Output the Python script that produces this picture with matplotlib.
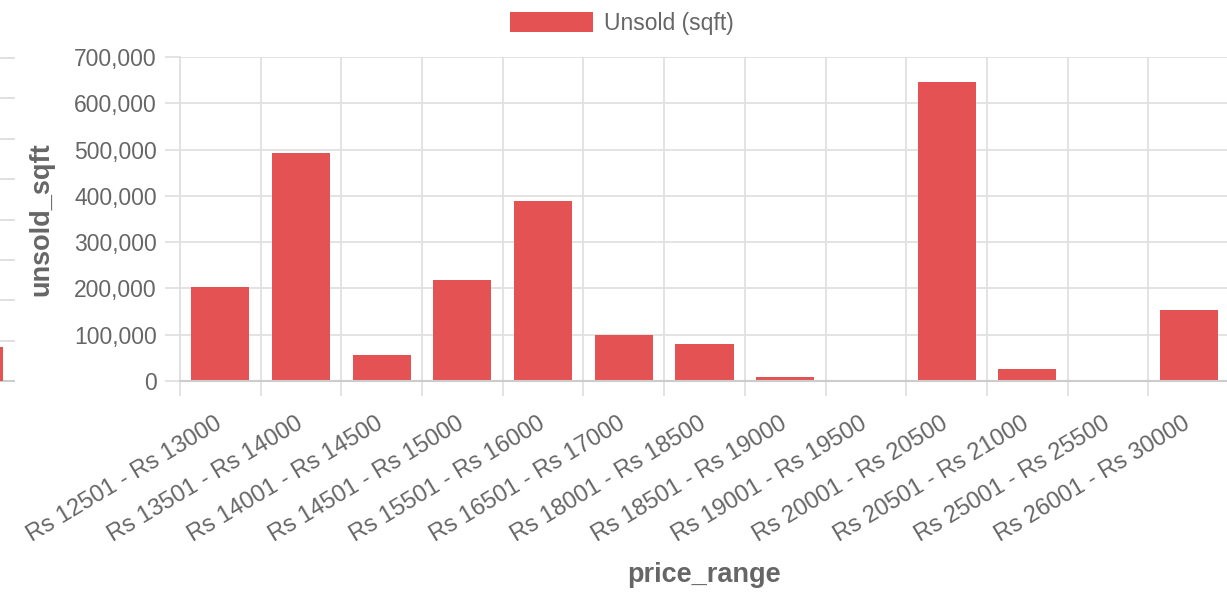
import matplotlib.pyplot as plt
import matplotlib.transforms as mtransforms
import numpy as np
from matplotlib.ticker import FuncFormatter

plt.rcParams["font.family"] = ["Liberation Sans", "DejaVu Sans"]

price_ranges = [
    "Rs 12501 - Rs 13000",
    "Rs 13501 - Rs 14000",
    "Rs 14001 - Rs 14500",
    "Rs 14501 - Rs 15000",
    "Rs 15501 - Rs 16000",
    "Rs 16501 - Rs 17000",
    "Rs 18001 - Rs 18500",
    "Rs 18501 - Rs 19000",
    "Rs 19001 - Rs 19500",
    "Rs 20001 - Rs 20500",
    "Rs 20501 - Rs 21000",
    "Rs 25001 - Rs 25500",
    "Rs 26001 - Rs 30000",
]
unsold_sqft = [204000, 493000, 57000, 218000, 388000, 100000, 79500,
               9000, 0, 645000, 27000, 0, 153000]

# edge of the neighbouring panel that is cut off on the left
side_grid_levels = np.arange(0, 9)
side_value = [0.84]

bar_color = "#E45253"
grid_color = "#e0e0e0"
zero_color = "#cccccc"
text_color = "#666666"

W, H = 1227, 599
fig = plt.figure(figsize=(W / 100, H / 100), dpi=100)

# neighbouring panel stub
ax0 = fig.add_axes([0, 1 - 381 / H, 14 / W, (381 - 58) / H])
ax0.bar([-20], side_value, width=23, align="edge", color=bar_color, zorder=2)
ax0.set_xlim(0, 14)
ax0.set_ylim(0, 8)
for lvl in side_grid_levels:
    ax0.axhline(lvl, color=zero_color if lvl == 0 else grid_color, lw=1.4,
                zorder=1, clip_on=False)
ax0.axis("off")

# main chart
ax = fig.add_axes([180 / W, 1 - 381 / H, 1049 / W, 324 / H])
x = np.arange(len(price_ranges))
ax.bar(x, unsold_sqft, width=0.72, color=bar_color, zorder=2,
       label="Unsold (sqft)")
ax.set_xlim(-0.5, len(price_ranges) - 0.5)
ax.set_ylim(0, 700000)
ax.set_axisbelow(True)

# category boundaries carry the grid, centres carry the labels
ax.set_xticks(np.arange(-0.5, len(price_ranges) + 0.5, 1.0))
ax.set_xticklabels([])
ax.set_xticks(x, minor=True)
ax.set_xticklabels(price_ranges, minor=True, rotation=31, ha="right",
                   va="top", rotation_mode="anchor", fontsize=17,
                   color=text_color)
ax.tick_params(axis="x", which="major", length=10.8, width=1.3,
               color=grid_color)
ax.tick_params(axis="x", which="minor", length=0, pad=23)
shift = mtransforms.ScaledTranslation(-6 / 100, 0, fig.dpi_scale_trans)
for lab in ax.get_xticklabels(minor=True):
    lab.set_transform(lab.get_transform() + shift)

ax.set_yticks(np.arange(0, 700001, 100000))
ax.yaxis.set_major_formatter(FuncFormatter(lambda v, p: f"{int(v):,}"))
ax.tick_params(axis="y", length=10.8, width=1.3, color=grid_color,
               pad=6, labelsize=16.5, labelcolor=text_color)

ax.grid(True, which="major", color=grid_color, lw=1.3)
for side in ["top", "right"]:
    ax.spines[side].set_visible(False)
ax.spines["left"].set_color(grid_color)
ax.spines["left"].set_linewidth(1.3)
ax.spines["bottom"].set_color(zero_color)
ax.spines["bottom"].set_linewidth(1.5)

ax.set_xlabel("price_range", fontsize=19.5, fontweight="bold",
              color=text_color, va="top")
ax.xaxis.set_label_coords(0.5, -(562 - 381) / 324)
ax.set_ylabel("unsold_sqft", fontsize=19.5, fontweight="bold",
              color=text_color, va="center")
ax.yaxis.set_label_coords(-(180 - 41) / 1049, 0.5)

fig.legend(loc="center", bbox_to_anchor=(622 / W, 1 - 23.5 / H),
           frameon=False, fontsize=16.5, labelcolor=text_color,
           handlelength=3.6, handleheight=1.0, handletextpad=0.5)

fig.savefig("out.png", dpi=100)
